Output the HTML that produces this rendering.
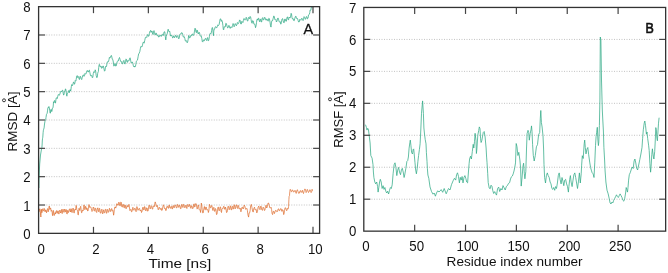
<!DOCTYPE html><html><head><meta charset="utf-8"><style>
html,body{margin:0;padding:0;background:#fff;width:668px;height:273px;overflow:hidden}
svg{display:block;will-change:transform}
text{font-family:"Liberation Sans", sans-serif;fill:#111}
</style></head><body>
<svg width="668" height="273" viewBox="0 0 668 273">
<rect width="668" height="273" fill="#fff"/>
<g stroke="#c2c2c2" stroke-width="1" stroke-dasharray="1 1.5" fill="none">
<line x1="46.3" y1="205.01" x2="312.1" y2="205.01"/>
<line x1="46.3" y1="176.68" x2="312.1" y2="176.68"/>
<line x1="46.3" y1="148.34" x2="312.1" y2="148.34"/>
<line x1="46.3" y1="120.00" x2="312.1" y2="120.00"/>
<line x1="46.3" y1="91.66" x2="312.1" y2="91.66"/>
<line x1="46.3" y1="63.33" x2="312.1" y2="63.33"/>
<line x1="46.3" y1="34.99" x2="312.1" y2="34.99"/>
<line x1="371.5" y1="199.19" x2="658.1" y2="199.19"/>
<line x1="371.5" y1="167.24" x2="658.1" y2="167.24"/>
<line x1="371.5" y1="135.28" x2="658.1" y2="135.28"/>
<line x1="371.5" y1="103.32" x2="658.1" y2="103.32"/>
<line x1="371.5" y1="71.36" x2="658.1" y2="71.36"/>
<line x1="371.5" y1="39.41" x2="658.1" y2="39.41"/>
</g>
<polyline fill="none" stroke="#dc6828" stroke-width="0.7" stroke-linejoin="round" points="38.9,212.0 39.2,211.7 39.6,209.0 40.0,208.7 40.4,211.5 40.6,215.6 40.9,217.0 41.2,211.5 41.5,209.3 41.8,212.7 42.0,212.6 42.4,209.7 42.8,208.7 43.2,210.7 43.7,210.9 44.2,208.4 44.6,209.8 45.0,211.9 45.3,211.5 45.7,209.8 46.1,210.4 46.5,212.8 47.0,210.9 47.5,208.6 47.9,209.3 48.2,211.8 48.6,210.4 49.0,206.7 49.4,206.0 49.8,209.4 50.1,209.3 50.5,207.9 50.8,208.7 51.2,211.3 51.6,210.4 52.0,210.8 52.5,215.3 52.8,215.8 53.0,213.1 53.3,210.4 53.6,211.5 54.0,215.2 54.5,215.3 54.9,213.0 55.2,212.6 55.6,213.9 56.0,211.5 56.5,210.6 56.9,213.1 57.3,213.3 57.8,210.9 58.1,210.8 58.5,212.6 58.9,214.1 59.3,211.5 59.8,210.2 60.2,212.0 60.7,213.0 61.1,210.4 61.5,209.5 61.8,212.6 62.2,213.6 62.6,210.9 63.0,209.1 63.5,211.5 64.0,212.4 64.4,210.4 64.8,209.0 65.1,211.5 65.5,212.1 65.9,209.8 66.3,209.6 66.8,213.7 67.2,214.1 67.6,210.4 68.0,210.5 68.4,212.6 68.8,212.0 69.2,209.3 69.7,208.9 70.1,210.9 70.5,212.0 70.9,208.7 71.3,208.9 71.7,212.0 72.1,212.6 72.5,209.8 73.0,208.0 73.4,208.7 73.8,212.4 74.2,213.1 74.6,209.8 75.0,209.3 75.4,210.1 75.8,208.2 76.1,205.4 76.4,206.0 76.8,209.9 77.2,210.4 77.6,210.5 78.0,214.8 78.3,214.9 78.6,211.5 79.0,208.3 79.4,209.3 79.8,210.5 80.2,207.6 80.7,206.3 81.1,209.3 81.5,212.7 81.9,212.6 82.3,210.4 82.7,210.4 83.1,211.0 83.5,207.6 84.0,204.9 84.4,206.5 84.8,209.7 85.2,208.7 85.6,206.3 86.0,207.1 86.4,209.5 86.8,208.2 87.2,208.4 87.6,210.9 88.0,211.0 88.5,207.1 88.9,204.6 89.3,205.4 89.7,207.5 90.1,207.1 90.7,206.8 91.3,208.5 92.0,211.5 92.7,210.5 93.2,207.0 93.8,207.8 94.2,210.5 94.7,211.2 95.2,207.9 95.7,208.5 96.2,211.9 96.7,212.5 97.2,209.1 97.8,207.8 98.3,211.1 98.8,211.8 99.2,208.3 99.7,208.5 100.2,212.9 100.8,213.2 101.3,210.3 101.9,209.2 102.3,213.2 102.8,213.9 103.2,210.9 103.7,209.8 104.2,213.0 104.8,212.5 105.3,209.5 105.9,209.2 106.3,213.2 106.8,213.2 107.3,209.3 107.8,209.8 108.3,212.3 108.9,211.8 109.4,208.3 109.9,209.2 110.4,211.5 110.9,211.2 111.3,208.9 111.8,208.5 112.3,211.2 112.9,210.5 113.2,211.9 113.6,215.2 113.9,213.6 114.3,209.8 114.8,207.0 115.3,207.1 115.8,208.1 116.3,205.8 116.8,203.7 117.2,203.8 117.8,205.4 118.3,205.1 118.8,202.1 119.4,203.1 119.8,205.7 120.3,205.8 120.8,202.0 121.3,202.4 121.8,206.8 122.3,207.1 122.8,204.4 123.4,204.4 123.9,207.6 124.4,207.8 124.8,204.9 125.3,205.1 125.8,208.5 126.4,208.5 127.0,205.5 127.5,205.8 128.0,207.1 128.4,205.1 128.9,204.4 129.4,207.1 129.9,210.6 130.4,209.8 130.9,209.3 131.5,211.8 132.0,211.6 132.5,208.5 132.9,207.3 133.4,209.8 133.9,210.3 134.5,208.5 135.1,208.2 135.6,210.5 136.1,211.7 136.5,208.5 136.9,206.6 137.4,207.8 137.9,210.4 138.5,209.8 139.1,208.3 139.6,208.5 140.1,210.9 140.5,210.5 141.0,209.9 141.5,212.5 142.1,211.1 142.6,207.8 143.1,207.1 143.6,209.8 144.1,209.9 144.6,206.5 145.1,207.5 145.5,210.5 146.1,210.9 146.6,207.8 147.1,208.0 147.7,211.2 148.1,210.9 148.6,207.1 149.1,205.1 149.6,205.8 150.1,209.0 150.6,208.5 151.1,205.6 151.7,206.5 152.2,208.8 152.7,209.2 153.1,206.5 153.6,205.8 154.1,206.9 154.7,204.4 155.2,201.9 155.8,203.8 156.2,206.4 156.7,206.5 157.2,205.3 157.7,207.1 158.2,209.8 158.7,209.2 159.2,207.2 159.8,207.8 160.3,209.5 160.8,208.5 161.2,208.2 161.7,210.5 162.2,210.2 162.8,207.1 163.4,204.8 163.9,205.8 164.4,208.4 164.8,208.5 165.2,208.1 165.7,210.5 166.2,210.4 166.8,206.5 167.4,206.2 167.9,207.8 168.4,208.4 168.8,205.8 169.3,204.9 169.8,207.8 170.4,208.4 170.9,206.5 171.4,206.3 171.9,208.5 172.4,209.1 172.9,205.8 173.4,205.6 173.8,207.8 174.4,207.6 174.9,205.1 175.6,205.0 176.3,207.8 176.9,207.9 177.4,204.4 177.9,204.7 178.4,207.1 178.9,207.4 179.3,205.1 179.9,205.5 180.4,208.5 180.9,208.8 181.5,205.1 181.9,204.3 182.4,206.5 182.9,207.5 183.4,204.4 183.9,204.6 184.4,207.1 184.9,207.8 185.5,205.8 186.0,205.1 186.5,207.8 186.9,208.5 187.4,205.1 187.9,204.3 188.5,206.5 189.1,206.6 189.6,204.4 190.1,205.1 190.5,207.8 190.9,208.4 191.4,205.8 191.9,206.0 192.5,208.5 193.1,208.4 193.6,204.4 194.1,203.8 194.5,207.1 195.0,206.6 195.5,203.8 196.1,203.6 196.6,205.8 197.1,209.1 197.6,208.5 198.1,205.1 198.6,205.1 199.1,209.4 199.5,209.8 200.1,209.8 200.6,212.5 200.9,208.9 201.3,203.1 201.8,205.2 202.2,209.8 202.8,213.1 203.3,212.5 203.9,208.3 204.4,206.5 204.9,209.5 205.3,209.8 205.8,207.0 206.3,207.1 206.8,209.9 207.3,209.8 207.9,209.7 208.4,212.5 208.9,210.5 209.4,204.4 209.9,205.0 210.3,207.8 210.9,207.7 211.4,205.8 211.9,205.4 212.5,209.2 212.9,210.5 213.4,207.8 213.9,207.3 214.4,211.2 214.9,211.3 215.4,208.5 215.9,209.4 216.5,214.5 217.0,214.3 217.5,209.8 217.9,207.3 218.4,207.1 218.9,210.7 219.5,210.5 220.1,206.8 220.6,207.1 221.1,211.6 221.5,212.5 221.9,208.9 222.4,208.5 222.9,208.8 223.5,206.5 224.1,206.5 224.6,209.2 225.1,209.3 225.5,207.1 226.0,208.8 226.5,212.5 227.1,212.2 227.6,208.5 228.1,206.2 228.6,206.5 229.1,209.8 229.6,209.2 230.1,206.6 230.5,205.8 231.1,209.9 231.6,209.8 232.1,206.4 232.7,206.5 233.1,209.2 233.6,207.8 234.1,204.7 234.6,205.8 235.1,208.9 235.6,207.8 236.1,204.8 236.7,205.1 237.2,207.7 237.7,208.5 238.1,205.3 238.6,205.8 239.1,208.6 239.7,209.2 240.1,208.1 240.5,209.5 240.9,211.8 241.3,210.5 241.9,207.3 242.5,207.2 243.1,209.0 243.6,208.0 244.2,205.1 244.9,206.4 245.6,209.3 246.3,208.8 246.9,208.3 247.4,210.5 248.0,215.0 248.6,217.1 249.1,213.0 249.6,212.9 250.1,210.7 250.7,205.5 251.3,204.4 251.9,207.2 252.6,211.0 253.2,212.1 253.8,208.5 254.5,207.2 255.1,210.0 255.7,209.7 256.2,209.3 256.8,212.9 257.5,211.2 258.1,207.2 258.8,206.1 259.4,208.8 260.0,209.7 260.6,206.4 261.1,206.1 261.7,209.7 262.4,210.4 263.1,207.2 263.8,208.0 264.4,210.5 264.9,210.2 265.5,206.4 266.1,205.2 266.7,208.0 267.4,206.5 268.0,203.1 268.6,203.1 269.3,205.5 269.9,208.0 270.5,208.0 271.1,207.3 271.6,209.7 272.1,213.6 272.6,214.6 273.2,211.4 273.8,211.3 274.4,213.6 274.9,212.1 275.5,210.4 276.2,210.5 276.9,211.9 277.6,211.3 278.1,209.0 278.7,208.8 279.3,210.7 279.9,210.5 280.5,208.7 281.2,208.8 281.9,211.4 282.5,209.7 283.1,210.1 283.7,214.6 284.1,213.5 284.5,210.5 285.1,207.7 285.8,208.0 286.4,210.5 287.0,210.5 287.4,208.4 287.8,208.8 288.2,208.9 288.6,206.4 288.9,199.7 289.1,196.5 289.5,195.7 289.8,191.5 290.2,189.3 290.7,189.9 291.3,191.8 291.9,191.5 292.4,189.8 293.0,190.7 293.7,192.1 294.4,191.5 295.0,190.3 295.7,192.4 296.2,193.4 296.8,190.7 297.4,189.7 298.0,191.5 298.6,193.3 299.3,193.2 300.0,190.8 300.6,190.7 301.2,192.5 301.8,191.5 302.4,190.3 302.9,192.4 303.5,193.5 304.2,190.7 304.9,188.9 305.6,189.9 306.1,192.6 306.7,191.5 307.3,189.4 307.9,190.7 308.5,192.5 309.2,191.5 309.9,189.7 310.5,190.7 311.1,192.6 311.7,191.5 312.1,189.3 312.5,190.7"/>
<polyline fill="none" stroke="#30a985" stroke-width="0.75" stroke-linejoin="round" points="38.9,188.0 39.0,180.0 39.3,172.0 39.7,164.0 40.5,155.0 41.7,148.0 41.9,147.6 42.1,145.0 42.3,141.0 42.5,138.7 42.8,137.2 43.1,132.8 43.4,130.2 43.7,129.2 44.1,127.9 44.5,124.0 45.0,121.1 45.4,120.4 45.7,119.7 46.0,117.4 46.5,114.3 46.9,113.8 47.2,113.1 47.5,110.9 47.9,107.9 48.3,107.2 48.6,107.6 48.9,106.5 49.3,107.9 49.8,110.9 50.1,113.2 50.4,113.1 50.8,109.6 51.3,109.4 51.6,111.4 51.9,111.6 52.3,108.8 52.7,107.9 53.0,107.8 53.3,105.0 53.5,101.8 53.7,102.1 54.0,102.7 54.4,100.6 54.8,100.6 55.2,102.8 55.5,103.1 55.9,99.9 56.2,98.0 56.6,97.7 57.2,98.6 57.8,96.2 58.3,94.5 58.8,94.8 59.3,95.3 59.9,94.0 60.5,91.7 61.0,91.1 61.6,91.8 62.2,90.4 62.7,90.2 63.2,93.3 63.6,95.0 64.0,94.8 64.3,91.6 64.7,91.1 65.1,91.4 65.4,88.9 65.8,89.2 66.2,91.8 66.6,95.3 66.9,96.2 67.2,94.0 67.6,93.3 68.0,93.0 68.4,91.1 68.8,90.5 69.1,91.8 69.4,92.6 69.8,90.4 70.2,89.6 70.6,91.1 70.9,90.0 71.3,86.7 71.7,84.6 72.0,85.2 72.5,85.7 73.0,83.8 73.5,82.0 73.9,82.3 74.4,84.3 74.9,83.1 75.2,80.6 75.6,81.0 75.9,81.1 76.2,79.3 76.7,76.1 77.2,75.6 77.7,77.6 78.2,77.1 78.7,76.5 79.1,79.3 79.6,79.4 80.1,76.4 80.6,76.5 81.1,78.6 81.7,79.6 82.3,77.1 82.9,75.2 83.5,74.9 84.0,76.4 84.5,75.6 85.0,73.4 85.5,74.2 86.1,73.6 86.7,71.2 87.3,70.4 87.9,72.0 88.4,72.0 88.9,70.5 89.4,70.2 89.9,72.7 90.5,75.7 91.1,75.6 91.7,75.4 92.3,77.8 92.8,77.3 93.3,73.4 93.8,71.6 94.3,72.0 94.8,72.4 95.2,69.8 95.7,71.3 96.2,75.6 96.8,77.7 97.3,77.1 97.7,73.3 98.1,72.0 98.4,71.4 98.7,67.6 99.2,64.4 99.6,64.6 100.1,66.9 100.6,66.8 101.1,66.1 101.6,68.3 102.2,68.0 102.8,66.1 103.4,66.1 104.0,69.0 104.5,71.2 105.0,70.5 105.5,66.5 106.0,66.1 106.5,66.6 106.9,63.9 107.4,61.8 107.9,61.7 108.5,61.7 109.0,59.5 109.4,57.4 109.8,58.1 110.3,57.7 110.9,55.9 111.4,55.4 111.9,57.3 112.3,59.3 112.8,59.5 113.3,62.0 113.8,66.1 114.3,65.8 114.8,63.9 115.2,63.5 115.7,66.1 116.2,65.9 116.7,63.9 117.2,61.5 117.8,61.0 118.3,61.0 118.9,58.8 119.5,57.5 120.1,59.5 120.6,61.4 121.1,61.7 121.6,61.6 122.1,63.9 122.7,63.8 123.3,61.0 123.9,60.4 124.5,63.2 125.0,64.1 125.5,61.7 126.0,58.9 126.5,59.5 127.0,62.0 127.4,62.4 127.9,60.5 128.4,61.0 128.9,61.0 129.5,58.8 130.1,57.8 130.6,60.2 131.2,63.1 131.8,62.4 132.3,61.9 132.8,63.2 133.4,65.9 133.9,66.8 134.4,66.0 134.8,67.1 135.4,66.6 135.9,64.2 136.4,61.1 136.9,60.5 137.5,60.0 138.1,56.8 138.6,54.0 139.2,53.2 139.8,51.7 140.3,48.8 140.8,46.5 141.3,46.6 141.9,47.0 142.5,45.1 143.1,42.3 143.6,42.2 144.1,43.2 144.7,40.7 145.4,37.4 146.2,37.0 146.7,37.5 147.2,35.5 147.7,34.5 148.2,36.2 148.8,36.2 149.4,33.3 150.0,31.1 150.6,30.4 151.1,32.4 151.6,31.1 152.1,31.0 152.6,34.0 153.1,34.6 153.5,31.8 154.0,30.6 154.5,32.6 155.0,34.8 155.5,34.8 155.9,32.9 156.4,33.3 156.9,35.2 157.4,35.5 157.9,34.8 158.5,37.0 159.1,37.0 159.6,35.5 160.2,35.1 160.8,36.2 161.3,36.4 161.8,34.8 162.4,34.3 162.9,35.5 163.3,35.5 163.7,33.3 164.2,31.8 164.8,31.8 165.3,36.6 165.8,39.9 166.2,36.5 166.7,34.8 167.2,33.8 167.7,31.1 168.1,29.2 168.4,29.6 168.8,31.4 169.2,31.8 169.7,31.2 170.2,34.0 170.6,36.1 171.1,35.5 171.6,35.0 172.1,36.2 172.6,37.9 173.1,37.7 173.6,35.9 174.0,36.2 174.5,37.7 175.0,37.0 175.5,35.4 176.0,35.5 176.6,37.5 177.2,36.2 177.8,35.5 178.4,38.4 178.9,38.9 179.4,37.0 179.9,34.3 180.4,34.0 181.0,34.1 181.6,32.6 182.2,32.9 182.8,34.8 183.3,37.0 183.8,37.0 184.3,36.7 184.8,38.4 185.4,41.1 186.0,40.6 186.6,40.8 187.2,42.8 187.7,41.7 188.2,39.2 188.6,35.6 188.9,35.5 189.5,37.9 190.1,37.7 190.6,35.7 191.1,35.5 191.6,36.1 192.1,34.0 192.7,34.0 193.3,35.5 193.9,34.6 194.5,31.1 195.0,28.2 195.5,28.9 196.0,32.4 196.5,32.6 196.9,30.0 197.4,30.4 197.9,33.2 198.4,34.0 198.9,32.2 199.5,32.6 200.1,35.3 200.6,36.2 201.2,35.7 201.8,38.4 202.3,41.5 202.8,42.1 203.4,39.8 203.9,40.6 204.4,40.7 205.0,38.7 205.6,38.4 206.2,40.1 206.7,40.6 207.2,37.9 207.7,37.6 208.2,40.9 208.8,40.3 209.4,36.5 210.0,33.5 210.6,33.6 211.1,33.7 211.6,30.6 212.1,27.6 212.6,27.7 213.1,32.7 213.5,35.7 213.8,31.2 214.1,29.2 214.6,29.2 215.2,27.0 215.8,26.6 216.4,27.7 216.9,27.7 217.4,26.2 217.9,24.8 218.5,25.5 219.1,24.6 219.6,21.8 220.2,18.9 220.8,18.9 221.3,21.4 221.8,20.4 222.4,21.7 222.9,25.5 223.3,29.4 223.7,29.9 224.2,26.7 224.8,27.0 225.3,26.9 225.8,23.3 226.4,23.6 227.0,26.2 227.6,27.9 228.1,27.7 228.6,25.6 229.2,25.5 229.7,27.9 230.2,28.4 230.8,26.8 231.4,27.0 231.9,27.6 232.5,25.5 233.1,23.5 233.6,24.8 234.1,26.8 234.6,25.5 235.1,23.5 235.7,24.0 236.3,25.8 236.9,24.8 237.4,22.5 237.9,23.3 238.4,23.6 239.0,22.3 239.6,19.9 240.1,20.4 240.7,23.9 241.3,24.0 241.8,21.3 242.3,21.8 242.9,22.6 243.4,20.4 243.9,18.4 244.5,18.9 245.1,20.2 245.7,19.6 246.2,17.3 246.7,18.2 247.2,20.7 247.8,21.1 248.4,17.7 248.9,17.4 249.5,18.7 250.1,16.4 250.6,16.9 251.1,19.6 251.6,22.6 252.1,23.3 252.7,20.5 253.3,21.1 253.9,24.1 254.5,24.0 255.0,24.9 255.5,27.7 256.0,26.0 256.5,22.6 256.9,19.9 257.4,18.9 257.9,20.2 258.4,18.2 258.9,18.4 259.5,21.8 259.9,21.4 260.4,19.3 260.8,19.0 261.2,22.0 261.7,21.9 262.2,18.3 262.7,17.6 263.2,19.8 263.8,19.8 264.4,17.6 265.0,17.4 265.6,19.8 266.1,20.3 266.6,19.0 267.1,19.0 267.6,20.5 268.2,21.2 268.8,18.3 269.4,18.7 270.0,22.0 270.5,25.8 271.0,27.1 271.5,22.1 272.0,20.5 272.6,20.6 273.2,18.3 273.8,15.9 274.3,16.8 274.9,19.5 275.4,19.0 275.9,19.6 276.4,22.0 277.0,21.1 277.6,18.3 278.1,18.0 278.7,19.8 279.2,21.9 279.8,22.0 280.3,21.7 280.8,24.2 281.4,22.6 282.0,19.0 282.6,18.6 283.1,20.5 283.6,22.5 284.2,22.7 284.7,19.1 285.2,19.0 285.8,21.2 286.4,21.2 286.9,17.8 287.5,16.8 288.1,19.7 288.6,19.8 289.1,17.0 289.6,17.6 290.1,18.0 290.7,16.1 291.1,13.3 291.5,13.9 292.0,17.7 292.5,19.0 293.1,18.5 293.7,20.5 294.2,20.7 294.8,18.3 295.4,16.5 295.9,16.1 296.4,18.4 296.9,18.3 297.5,18.5 298.1,20.5 298.6,22.0 299.2,22.0 299.8,19.3 300.3,19.8 300.8,20.3 301.3,19.0 301.9,18.2 302.5,19.8 303.1,20.6 303.6,18.3 304.1,16.6 304.7,17.6 305.2,19.4 305.7,19.0 306.3,16.6 306.9,16.8 307.4,18.9 308.0,18.3 308.5,14.9 309.0,14.6 309.4,14.3 309.8,12.4 310.1,10.0 310.5,10.2 310.9,10.1 311.2,8.0 311.6,6.6 312.0,7.3"/>
<polyline fill="none" stroke="#30a985" stroke-width="0.75" stroke-linejoin="round" points="365.5,124.7 366.4,127.4 367.0,130.1 367.7,128.3 368.4,129.2 369.2,135.6 370.1,143.0 370.8,155.5 372.1,158.2 373.0,164.7 373.4,172.0 373.9,177.5 374.8,182.0 375.7,183.9 376.7,182.0 377.6,186.6 378.1,192.1 378.8,187.5 379.6,182.0 380.3,179.3 381.2,182.0 382.1,188.5 383.1,185.7 384.0,189.4 384.9,187.5 385.8,191.2 386.7,193.0 387.6,191.2 388.6,194.0 389.5,190.3 390.4,187.5 391.3,188.5 392.2,184.8 393.1,173.8 394.1,164.7 395.0,162.8 395.9,167.4 396.8,175.6 397.7,170.1 398.6,167.4 399.5,172.0 400.5,174.7 401.4,170.1 402.3,168.3 403.2,172.0 404.1,177.5 404.7,175.0 405.8,168.7 406.9,161.4 407.7,160.6 408.4,157.0 409.1,148.2 409.9,142.3 410.3,140.1 410.9,145.2 411.6,152.6 412.5,154.0 413.1,149.6 413.7,148.9 414.2,154.0 415.0,162.8 415.7,170.1 416.4,173.8 417.2,168.7 417.9,161.4 418.6,155.5 419.4,149.6 420.1,143.8 420.8,130.0 421.5,113.3 422.6,100.9 423.4,113.3 423.9,128.0 424.5,134.0 425.2,139.4 426.0,143.8 426.4,152.6 427.0,161.4 427.4,168.7 427.9,175.0 428.8,178.3 430.0,186.9 431.5,191.5 433.0,194.2 434.2,193.0 435.4,196.2 436.5,193.0 437.7,190.8 439.0,192.0 440.0,191.0 441.2,189.6 442.7,192.3 444.2,188.5 446.2,193.8 447.4,191.0 448.5,188.5 450.0,190.0 451.5,184.6 453.1,180.8 454.4,178.3 455.7,180.1 456.6,174.7 457.5,172.8 458.5,176.5 459.4,182.9 460.3,177.4 461.2,180.1 462.1,176.5 463.0,182.9 464.0,177.4 464.9,175.6 465.8,178.3 466.7,182.0 467.6,182.9 468.5,171.0 469.1,163.7 469.6,159.0 470.5,156.2 471.4,159.0 472.3,151.6 473.2,144.3 473.8,148.0 474.5,141.6 475.1,133.3 476.0,140.6 476.4,153.5 476.9,148.9 477.8,135.1 478.7,130.6 479.3,126.9 480.0,128.7 480.6,138.8 481.1,142.5 481.8,140.6 482.6,136.1 483.3,132.4 484.2,131.5 485.1,137.0 486.1,148.0 486.6,157.1 487.0,162.3 487.7,173.3 488.2,182.5 489.2,188.0 490.1,188.9 491.0,185.2 491.9,186.1 492.8,190.7 493.7,193.5 494.7,191.6 495.6,193.5 496.5,195.1 497.6,188.5 498.7,187.1 499.7,191.5 500.9,188.5 502.0,190.0 503.0,185.6 504.1,187.8 505.2,190.0 506.4,186.4 507.4,185.6 508.5,183.4 509.6,182.7 510.5,179.0 511.4,176.8 512.3,176.1 513.2,173.9 514.0,171.0 514.8,167.3 515.5,162.9 516.2,143.5 517.0,146.8 517.9,155.5 518.8,152.3 519.9,160.0 520.6,168.0 521.2,186.1 522.1,177.0 523.0,166.0 523.6,163.2 524.3,173.3 524.9,178.8 525.8,171.5 526.5,149.0 527.1,133.6 528.0,130.3 528.7,132.5 529.3,140.2 530.2,133.6 531.1,129.2 531.5,125.9 532.0,131.4 532.6,144.6 533.3,155.5 534.2,161.0 535.3,155.5 536.4,146.8 537.5,144.6 538.6,134.7 539.7,132.5 540.3,118.2 540.8,110.5 541.4,122.6 542.1,127.0 543.0,135.8 543.6,149.0 544.0,164.7 544.6,177.5 545.5,183.0 546.4,175.6 547.3,172.9 548.2,175.6 549.2,177.5 550.1,182.0 551.0,183.9 551.9,188.5 552.8,189.4 553.7,187.5 554.7,190.3 555.6,186.6 556.5,188.5 557.4,183.0 558.3,175.6 559.2,172.9 560.1,179.3 561.1,183.9 562.0,177.5 562.9,181.1 563.8,185.7 564.7,180.2 565.6,179.3 566.6,183.9 567.5,186.6 568.4,192.1 568.9,186.6 569.7,179.3 570.4,175.6 571.1,182.0 572.1,186.6 573.0,180.2 573.9,174.7 574.8,172.9 575.7,177.5 576.6,183.0 577.5,188.5 578.5,181.1 579.4,172.9 580.3,183.0 581.2,173.8 581.6,165.8 582.3,155.7 583.2,158.5 584.2,143.8 584.7,140.1 585.3,147.5 586.0,153.9 586.9,149.3 587.8,147.5 588.7,154.8 589.7,162.1 590.6,167.6 591.3,170.1 592.2,172.9 593.1,173.8 594.0,177.5 594.8,162.1 595.5,145.6 596.1,136.5 596.6,132.8 597.3,127.3 597.9,140.1 598.4,145.6 598.8,142.0 599.4,125.5 599.9,100.0 600.3,37.0 600.9,40.0 601.5,80.0 602.3,110.0 602.8,120.0 603.4,131.0 603.9,147.5 604.6,160.0 605.1,171.0 605.9,182.0 607.0,190.2 608.2,193.9 609.2,198.5 610.1,203.0 611.0,204.0 611.9,202.1 612.8,203.0 613.7,200.3 614.7,198.5 615.6,196.6 616.5,194.8 617.4,196.6 618.3,197.5 619.2,195.7 620.1,193.9 621.1,195.7 622.0,197.5 622.9,200.3 623.8,201.2 624.7,198.5 625.6,193.0 626.2,187.5 626.7,189.3 627.5,192.1 628.0,187.5 628.6,180.1 629.3,174.7 630.2,172.8 631.1,170.0 632.1,167.0 633.2,168.5 634.1,161.0 634.9,159.0 635.8,163.0 636.6,168.0 637.6,170.0 638.7,165.0 639.8,159.5 640.9,154.0 642.0,147.4 642.6,138.6 643.3,129.8 644.2,123.2 644.8,121.0 645.5,125.4 646.4,134.2 647.0,132.0 647.7,138.6 648.6,145.2 649.2,150.5 649.9,163.4 650.6,172.2 651.1,166.4 651.8,154.6 652.4,148.8 653.3,156.1 653.9,159.0 654.7,151.7 655.2,142.0 655.8,127.6 656.3,129.8 656.9,138.6 657.4,140.8 657.8,134.2 658.5,123.2 659.1,117.7"/>
<g stroke="#444" stroke-width="1.2">
<line x1="38.6" y1="205.01" x2="45.1" y2="205.01"/>
<line x1="319.6" y1="205.01" x2="313.1" y2="205.01"/>
<line x1="38.6" y1="176.68" x2="45.1" y2="176.68"/>
<line x1="319.6" y1="176.68" x2="313.1" y2="176.68"/>
<line x1="38.6" y1="148.34" x2="45.1" y2="148.34"/>
<line x1="319.6" y1="148.34" x2="313.1" y2="148.34"/>
<line x1="38.6" y1="120.00" x2="45.1" y2="120.00"/>
<line x1="319.6" y1="120.00" x2="313.1" y2="120.00"/>
<line x1="38.6" y1="91.66" x2="45.1" y2="91.66"/>
<line x1="319.6" y1="91.66" x2="313.1" y2="91.66"/>
<line x1="38.6" y1="63.33" x2="45.1" y2="63.33"/>
<line x1="319.6" y1="63.33" x2="313.1" y2="63.33"/>
<line x1="38.6" y1="34.99" x2="45.1" y2="34.99"/>
<line x1="319.6" y1="34.99" x2="313.1" y2="34.99"/>
<line x1="93.48" y1="233.35" x2="93.48" y2="226.85"/>
<line x1="93.48" y1="6.65" x2="93.48" y2="13.15"/>
<line x1="148.36" y1="233.35" x2="148.36" y2="226.85"/>
<line x1="148.36" y1="6.65" x2="148.36" y2="13.15"/>
<line x1="203.24" y1="233.35" x2="203.24" y2="226.85"/>
<line x1="203.24" y1="6.65" x2="203.24" y2="13.15"/>
<line x1="258.12" y1="233.35" x2="258.12" y2="226.85"/>
<line x1="258.12" y1="6.65" x2="258.12" y2="13.15"/>
<line x1="313.00" y1="233.35" x2="313.00" y2="226.85"/>
<line x1="313.00" y1="6.65" x2="313.00" y2="13.15"/>
<line x1="363.8" y1="199.19" x2="370.3" y2="199.19"/>
<line x1="665.65" y1="199.19" x2="659.15" y2="199.19"/>
<line x1="363.8" y1="167.24" x2="370.3" y2="167.24"/>
<line x1="665.65" y1="167.24" x2="659.15" y2="167.24"/>
<line x1="363.8" y1="135.28" x2="370.3" y2="135.28"/>
<line x1="665.65" y1="135.28" x2="659.15" y2="135.28"/>
<line x1="363.8" y1="103.32" x2="370.3" y2="103.32"/>
<line x1="665.65" y1="103.32" x2="659.15" y2="103.32"/>
<line x1="363.8" y1="71.36" x2="370.3" y2="71.36"/>
<line x1="665.65" y1="71.36" x2="659.15" y2="71.36"/>
<line x1="363.8" y1="39.41" x2="370.3" y2="39.41"/>
<line x1="665.65" y1="39.41" x2="659.15" y2="39.41"/>
<line x1="414.66" y1="231.15" x2="414.66" y2="224.65"/>
<line x1="414.66" y1="7.45" x2="414.66" y2="13.95"/>
<line x1="465.52" y1="231.15" x2="465.52" y2="224.65"/>
<line x1="465.52" y1="7.45" x2="465.52" y2="13.95"/>
<line x1="516.38" y1="231.15" x2="516.38" y2="224.65"/>
<line x1="516.38" y1="7.45" x2="516.38" y2="13.95"/>
<line x1="567.24" y1="231.15" x2="567.24" y2="224.65"/>
<line x1="567.24" y1="7.45" x2="567.24" y2="13.95"/>
<line x1="618.10" y1="231.15" x2="618.10" y2="224.65"/>
<line x1="618.10" y1="7.45" x2="618.10" y2="13.95"/>
</g>
<rect x="38.6" y="6.65" width="281.0" height="226.7" fill="none" stroke="#333" stroke-width="1.3"/>
<rect x="363.8" y="7.45" width="301.84999999999997" height="223.70000000000002" fill="none" stroke="#333" stroke-width="1.3"/>
<text transform="translate(30.60,239.09) scale(0.92,1)" font-size="14.4" text-anchor="end">0</text>
<text transform="translate(30.60,210.67) scale(0.92,1)" font-size="14.4" text-anchor="end">1</text>
<text transform="translate(30.60,182.25) scale(0.92,1)" font-size="14.4" text-anchor="end">2</text>
<text transform="translate(30.60,153.84) scale(0.92,1)" font-size="14.4" text-anchor="end">3</text>
<text transform="translate(30.60,125.42) scale(0.92,1)" font-size="14.4" text-anchor="end">4</text>
<text transform="translate(30.60,97.00) scale(0.92,1)" font-size="14.4" text-anchor="end">5</text>
<text transform="translate(30.60,68.59) scale(0.92,1)" font-size="14.4" text-anchor="end">6</text>
<text transform="translate(30.60,40.17) scale(0.92,1)" font-size="14.4" text-anchor="end">7</text>
<text transform="translate(30.60,11.75) scale(0.92,1)" font-size="14.4" text-anchor="end">8</text>
<text transform="translate(356.30,236.25) scale(0.93,1)" font-size="14.2" text-anchor="end">0</text>
<text transform="translate(356.30,204.29) scale(0.93,1)" font-size="14.2" text-anchor="end">1</text>
<text transform="translate(356.30,172.34) scale(0.93,1)" font-size="14.2" text-anchor="end">2</text>
<text transform="translate(356.30,140.38) scale(0.93,1)" font-size="14.2" text-anchor="end">3</text>
<text transform="translate(356.30,108.42) scale(0.93,1)" font-size="14.2" text-anchor="end">4</text>
<text transform="translate(356.30,76.46) scale(0.93,1)" font-size="14.2" text-anchor="end">5</text>
<text transform="translate(356.30,44.51) scale(0.93,1)" font-size="14.2" text-anchor="end">6</text>
<text transform="translate(356.30,12.55) scale(0.93,1)" font-size="14.2" text-anchor="end">7</text>
<text transform="translate(41.20,253.50) scale(0.92,1)" font-size="14.4" text-anchor="middle">0</text>
<text transform="translate(95.98,253.50) scale(0.92,1)" font-size="14.4" text-anchor="middle">2</text>
<text transform="translate(150.36,253.50) scale(0.92,1)" font-size="14.4" text-anchor="middle">4</text>
<text transform="translate(205.14,253.50) scale(0.92,1)" font-size="14.4" text-anchor="middle">6</text>
<text transform="translate(260.12,253.50) scale(0.92,1)" font-size="14.4" text-anchor="middle">8</text>
<text transform="translate(315.30,253.50) scale(0.92,1)" font-size="14.4" text-anchor="middle">10</text>
<text transform="translate(365.90,251.10) scale(0.95,1)" font-size="14.0" text-anchor="middle">0</text>
<text transform="translate(416.76,251.10) scale(0.95,1)" font-size="14.0" text-anchor="middle">50</text>
<text transform="translate(467.62,251.10) scale(0.95,1)" font-size="14.0" text-anchor="middle">100</text>
<text transform="translate(518.48,251.10) scale(0.95,1)" font-size="14.0" text-anchor="middle">150</text>
<text transform="translate(569.34,251.10) scale(0.95,1)" font-size="14.0" text-anchor="middle">200</text>
<text transform="translate(620.20,251.10) scale(0.95,1)" font-size="14.0" text-anchor="middle">250</text>
<text x="148.4" y="268.3" font-size="13.3" textLength="62.8" lengthAdjust="spacingAndGlyphs">Time [ns]</text>
<text x="446.6" y="265.6" font-size="13.3" textLength="136" lengthAdjust="spacingAndGlyphs">Residue index number</text>
<text transform="translate(16.8,151.4) rotate(-90)" font-size="13.3" textLength="59.9" lengthAdjust="spacingAndGlyphs">RMSD [A]</text>
<text transform="translate(342.8,147.7) rotate(-90)" font-size="13.3" textLength="56.3" lengthAdjust="spacingAndGlyphs">RMSF [A]</text>
<circle cx="4.0" cy="100.3" r="1.5" fill="none" stroke="#222" stroke-width="0.9"/>
<circle cx="330.0" cy="99.3" r="1.5" fill="none" stroke="#222" stroke-width="0.9"/>
<text x="303.6" y="33.8" font-size="15.4" stroke="#111" stroke-width="0.3" textLength="9.6" lengthAdjust="spacingAndGlyphs">A</text>
<text x="645.4" y="33.1" font-size="15.4" stroke="#111" stroke-width="0.7" textLength="8.3" lengthAdjust="spacingAndGlyphs">B</text>
</svg></body></html>
